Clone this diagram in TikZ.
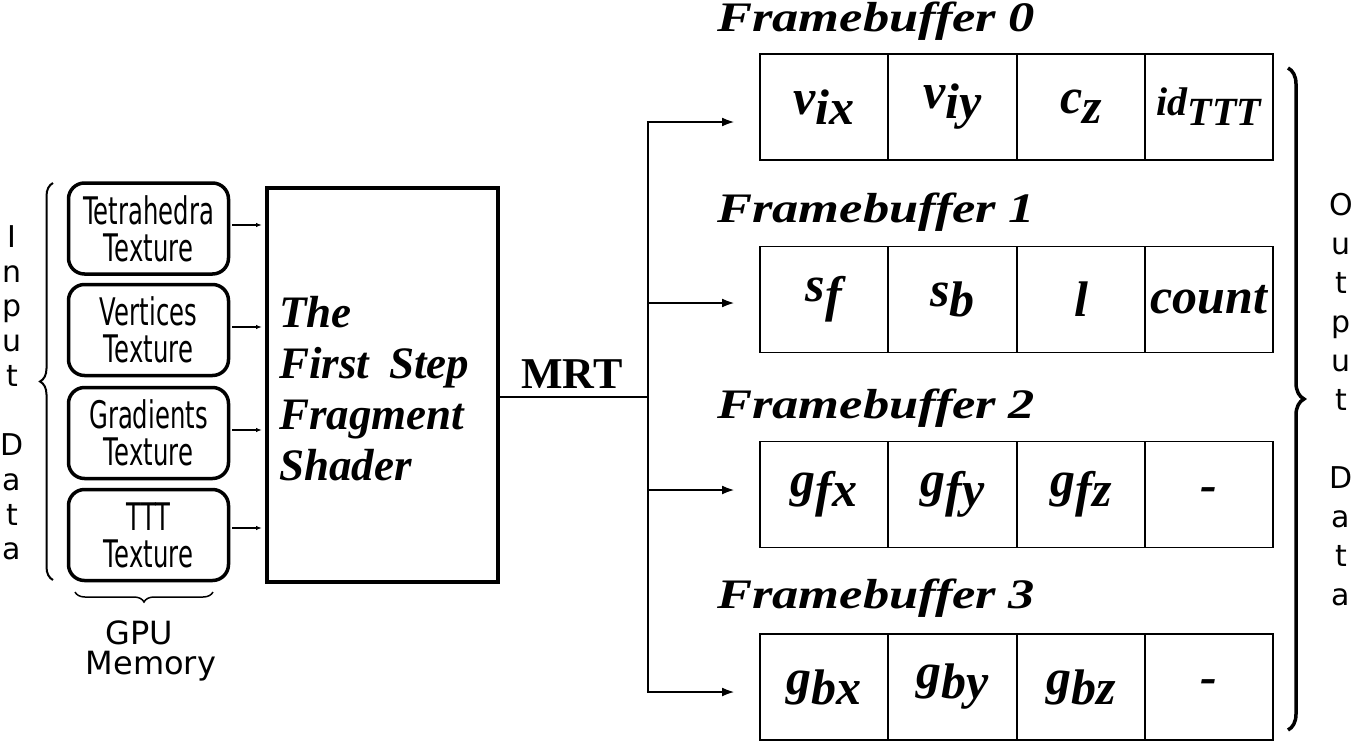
\documentclass[tikz,border=0pt]{standalone}
\usepackage{fontspec}
\setmainfont{Liberation Serif}
\newfontfamily\dejavu{DejaVu Sans}
\newfontfamily\narrowsans[FakeStretch=0.64]{DejaVu Sans}
\newfontfamily\widetimes[FakeStretch=1.25]{Liberation Serif}
\usetikzlibrary{decorations.pathreplacing,arrows.meta}
\newcommand\sbx[1]{\raisebox{-10pt}{#1}}
\begin{document}
\begin{tikzpicture}[x=1pt,y=-1pt,
  texbox/.style={draw,line width=3.5pt,rounded corners=16pt,minimum width=160pt,minimum height=91pt,align=center,inner sep=0pt,font=\narrowsans\fontsize{38}{37}\selectfont},
  cell/.style={draw,line width=1.8pt,minimum width=128.3pt,minimum height=106pt,inner sep=0pt,font=\bfseries\itshape\fontsize{50}{52}\selectfont},
  fbtitle/.style={anchor=base west,inner sep=0pt,font=\widetimes\bfseries\itshape\fontsize{42}{44}\selectfont},
  vtext/.style={align=center,inner sep=0pt},
  smallarrow/.style={line width=1.2pt,-{Latex[length=6pt,width=4.5pt]}},
  bigarrow/.style={line width=2.5pt,-{Latex[length=13pt,width=9pt]}},
  busline/.style={line width=2.5pt},
  bracestyle/.style={decorate,decoration={brace,amplitude=#1}},
]
\useasboundingbox (0,0) rectangle (1354,742);
\fill[white] (0,0) rectangle (1354,742);

% input data label
\node[vtext,font=\dejavu\fontsize{30}{34.7}\selectfont] (inlbl) at (12,393) {I\\n\\p\\u\\t\\ \\D\\a\\t\\a};
\draw[line width=2pt,bracestyle=13pt] (53,580) -- (53,183);

% texture boxes
\node[texbox] (t1) at (148.5,228.5) {Tetrahedra\\Texture};
\node[texbox] (t2) at (148.5,330) {Vertices\\Texture};
\node[texbox] (t3) at (148.5,433) {Gradients\\Texture};
\node[texbox] (t4) at (148.5,535) {TTT\\Texture};

% GPU memory
\draw[line width=1.5pt,bracestyle=10pt] (213,592) -- (75,592);
\node[inner sep=0pt,font=\dejavu\fontsize{32}{33}\selectfont] (gpu) at (139,633) {GPU};
\node[inner sep=0pt,font=\dejavu\fontsize{32}{33}\selectfont] (mem) at (151,666) {Memory};

% shader
\node[draw,line width=4pt,minimum width=231pt,minimum height=394pt,inner sep=0pt] (shader) at (382.5,385) {};
\node[anchor=north west,inner sep=0pt,align=left,font=\bfseries\itshape\fontsize{45}{51}\selectfont] (shtxt) at (279,296) {The\\First\hspace{20pt}Step\\Fragment\\Shader};

\foreach \b/\yy in {t1/225,t2/327,t3/430,t4/528}{
  \draw[smallarrow] ([xshift=2pt]\b.east |- 0,\yy) -- ([xshift=-3pt]shader.west |- 0,\yy);
}

% MRT bus
\coordinate (bus) at (648,397);
\coordinate (bt) at (648,122);
\coordinate (b1) at (648,303);
\coordinate (b2) at (648,490);
\coordinate (bb) at (648,692);
\coordinate (e0) at (735,122);
\coordinate (e1) at (735,303);
\coordinate (e2) at (735,490);
\coordinate (e3) at (735,692);
\draw[busline] (shader.east |- bus) -- (bus);
\draw[busline] (bt) -- (bb);
\node[anchor=base,inner sep=0pt,font=\bfseries\fontsize{44}{44}\selectfont] (mrt) at (572,388) {MRT};
\draw[bigarrow] ([xshift=-1.25pt]bt) -- (e0);
\draw[bigarrow] (b1) -- (e1);
\draw[bigarrow] (b2) -- (e2);
\draw[bigarrow] ([xshift=-1.25pt]bb) -- (e3);

% framebuffers
\node[fbtitle] (fb0) at (717,31) {Framebuffer\hspace{12pt}0};
\node[fbtitle] (fb1) at (717,222) {Framebuffer\hspace{12pt}1};
\node[fbtitle] (fb2) at (717,418) {Framebuffer\hspace{12pt}2};
\node[fbtitle] (fb3) at (717,608) {Framebuffer\hspace{12pt}3};

\node[cell] (c00) at (824,107) {v\sbx{ix}};
\node[cell] (c01) at (952.5,107) {v\sbx{iy}};
\node[cell] (c02) at (1081,107) {c\sbx{z}};
\node[cell] (c03) at (1209,107) {\fontsize{40}{40}\selectfont id\sbx{TTT}};

\node[cell] (c10) at (824,299.5) {s\sbx{f}};
\node[cell] (c11) at (952.5,299.5) {s\sbx{b}};
\node[cell] (c12) at (1081,299.5) {l};
\node[cell] (c13) at (1209,299.5) {count};

\node[cell] (c20) at (824,494.5) {g\sbx{fx}};
\node[cell] (c21) at (952.5,494.5) {g\sbx{fy}};
\node[cell] (c22) at (1081,494.5) {g\sbx{fz}};
\node[cell] (c23) at (1209,494.5) {-};

\node[cell] (c30) at (824,687) {g\sbx{bx}};
\node[cell] (c31) at (952.5,687) {g\sbx{by}};
\node[cell] (c32) at (1081,687) {g\sbx{bz}};
\node[cell] (c33) at (1209,687) {-};

% output data
\draw[line width=3.5pt,bracestyle=16pt] (1288,68) -- (1288,730);
\node[vtext,font=\dejavu\fontsize{30}{39}\selectfont] (outlbl) at (1341,400) {O\\u\\t\\p\\u\\t\\ \\D\\a\\t\\a};
\end{tikzpicture}
\end{document}
